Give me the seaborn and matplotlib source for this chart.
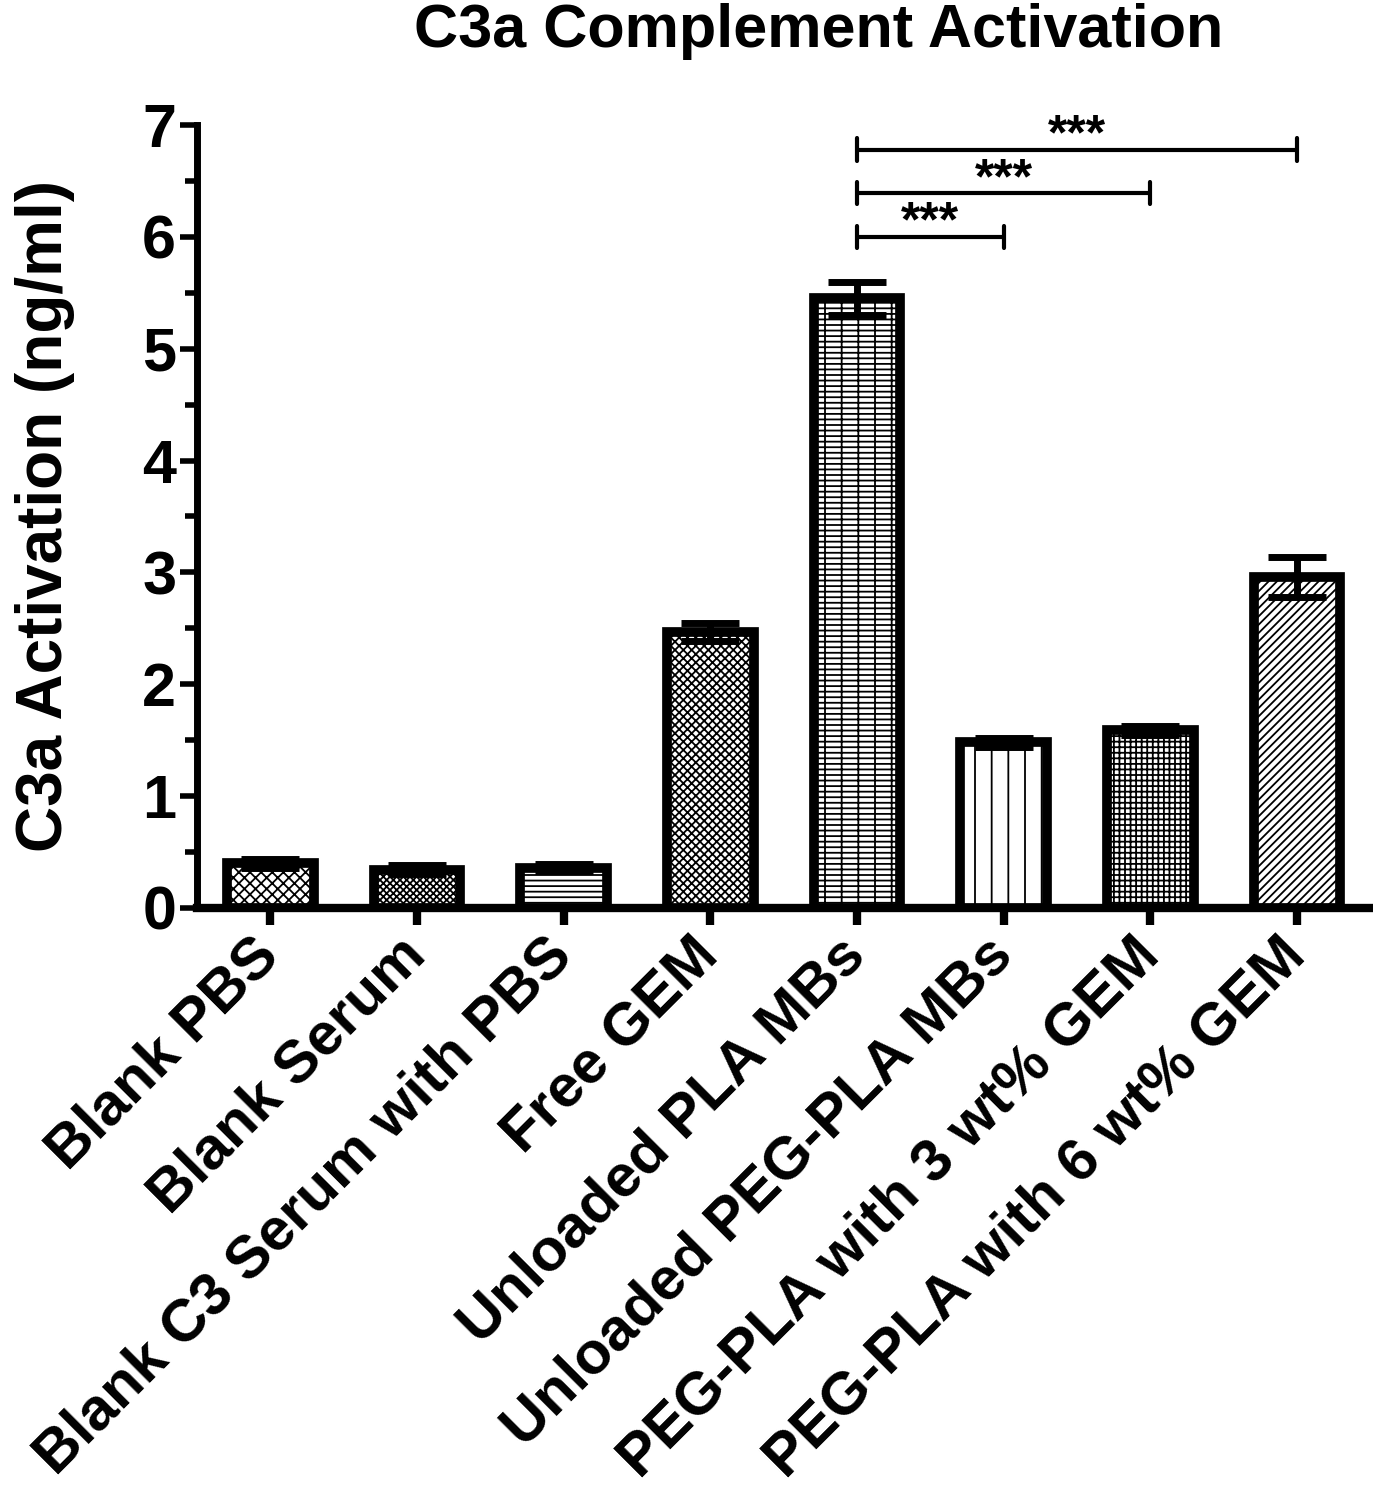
import numpy as np
import pandas as pd
import matplotlib
matplotlib.use("Agg")
import matplotlib.pyplot as plt
import seaborn as sns

# data
groups = ["Blank PBS", "Blank Serum", "Blank C3 Serum with PBS", "Free GEM",
          "Unloaded PLA MBs", "Unloaded PEG-PLA MBs",
          "PEG-PLA with 3 wt% GEM", "PEG-PLA with 6 wt% GEM"]
means = [0.40, 0.34, 0.36, 2.47, 5.45, 1.48, 1.59, 2.96]
errs = [0.04, 0.04, 0.03, 0.08, 0.15, 0.04, 0.04, 0.18]
hatches = ["xxx", "xxxxx", "---", "xxxx", "---|", "|", "+++", "////"]

# significance brackets
sig_from = [4, 4, 4]
sig_to = [5, 6, 7]
sig_y = [6.0, 6.39, 6.78]
sig_text = ["***", "***", "***"]

sns.set_style("ticks")
plt.rcParams["font.family"] = ["Liberation Sans", "DejaVu Sans"]
plt.rcParams["font.weight"] = "bold"
plt.rcParams["hatch.linewidth"] = 1.3
for key in ["text.color", "axes.labelcolor", "xtick.color", "ytick.color", "axes.edgecolor"]:
    plt.rcParams[key] = "black"

df = pd.DataFrame({"group": groups, "value": means})

fig = plt.figure(figsize=(13.73, 15), dpi=100)
ax = fig.add_axes([0.1435, 0.3947, 0.8545, 0.522])

sns.barplot(data=df, x="group", y="value", order=groups, width=0.59,
            color="white", edgecolor="black", linewidth=7, ax=ax)

for patch, h in zip(ax.patches, hatches):
    patch.set_facecolor("white")
    patch.set_hatch(h)
    patch.set_edgecolor("black")

ax.errorbar(np.arange(len(groups)), means, yerr=errs, fmt="none",
            ecolor="black", elinewidth=5, capsize=21, capthick=5, zorder=5)

# brackets with stars
for a, b, y, t in zip(sig_from, sig_to, sig_y, sig_text):
    ax.plot([a, b], [y, y], color="black", lw=3, clip_on=False)
    ax.plot([a, a], [y - 0.1, y + 0.1], color="black", lw=3, clip_on=False)
    ax.plot([b, b], [y - 0.1, y + 0.1], color="black", lw=3, clip_on=False)
    ax.text((a + b) / 2, y + 0.0, t, ha="center", va="baseline",
            fontsize=36, fontweight="bold")

ax.set_xlim(-0.5, 7.5)
ax.set_ylim(0, 7)
ax.set_yticks(range(0, 8))
ax.set_yticks(np.arange(0.5, 7, 1), minor=True)
ax.set_xlabel("")
ax.set_ylabel("C3a Activation (ng/ml)", fontsize=46, fontweight="bold", labelpad=48)
ax.set_xticks(range(len(groups)))
ax.set_xticklabels(groups, rotation=45, ha="right", va="center",
                   rotation_mode="anchor", fontsize=43, fontweight="bold")
for lab in ax.get_yticklabels():
    lab.set_fontsize(44)
    lab.set_fontweight("bold")

sns.despine(ax=ax)
ax.spines["left"].set_linewidth(5)
ax.spines["bottom"].set_linewidth(6)
ax.tick_params(axis="y", which="major", length=12, width=4, pad=3)
ax.tick_params(axis="y", which="minor", length=9, width=4)
ax.tick_params(axis="x", which="major", length=12, width=6, pad=16)

fig.text(0.596, 0.979, "C3a Complement Activation", ha="center", va="center",
         fontsize=44, fontweight="bold")

fig.savefig("out.png", dpi=100)
print("Saved: out.png")
